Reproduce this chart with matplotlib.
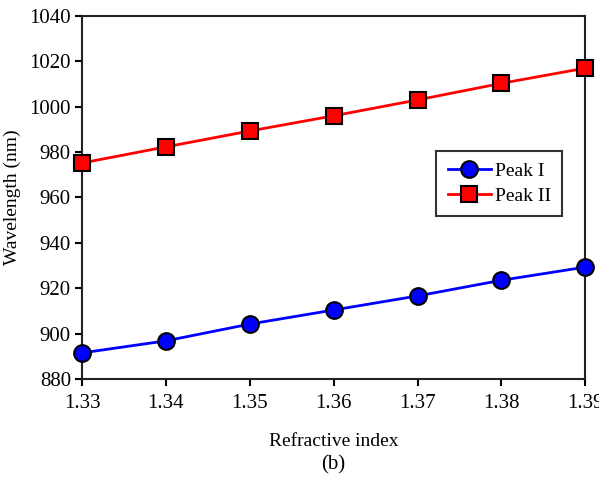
import numpy as np
import matplotlib.pyplot as plt

plt.rcParams['font.family'] = ['Liberation Serif', 'DejaVu Serif']

# DATA
refractive_index = [1.33, 1.34, 1.35, 1.36, 1.37, 1.38, 1.39]
peak1 = [891.5, 896.8, 904.2, 910.4, 916.6, 923.5, 929.3]
peak2 = [975.2, 982.3, 989.3, 996.0, 1003.0, 1010.3, 1017.0]
xticks = [1.33, 1.34, 1.35, 1.36, 1.37, 1.38, 1.39]
yticks = [880, 900, 920, 940, 960, 980, 1000, 1020, 1040]

fig = plt.figure(figsize=(5.99, 4.84), dpi=100)
ax = fig.add_axes([0.137, 0.217, 0.840, 0.750])

ax.plot(refractive_index, peak1, color='#0000ff', lw=2, marker='o', ms=12,
        mfc='#0000ff', mec='black', mew=1.5, label='Peak I', clip_on=False, zorder=3)
ax.plot(refractive_index, peak2, color='#ff0000', lw=2, marker='s', ms=11,
        mfc='#ff0000', mec='black', mew=1.5, label='Peak II', clip_on=False, zorder=3)

ax.set_xlim(1.33, 1.39)
ax.set_ylim(880, 1040)
ax.set_xticks(xticks)
ax.set_xticklabels(['%.2f' % v for v in xticks])
ax.set_yticks(yticks)
ax.tick_params(direction='out', length=5, width=1.5, labelsize=15, pad=3)
ax.tick_params(axis='x', pad=6)
for s in ax.spines.values():
    s.set_linewidth(1.5)
    s.set_color('#222222')

ax.set_xlabel('Refractive index', fontsize=14, labelpad=14)
ax.set_ylabel('Wavelength (nm)', fontsize=14, labelpad=6)
fig.text(0.556, 0.04, '(b)', ha='center', va='center', fontsize=15)

leg = ax.legend(loc='upper left', bbox_to_anchor=(0.704, 0.628), borderaxespad=0,
                fontsize=14, frameon=True, fancybox=False, edgecolor='black',
                handlelength=2.2, handletextpad=0.2, borderpad=0.6, labelspacing=0.35)
leg.get_frame().set_linewidth(1.5)

fig.savefig('out.png', dpi=100)
